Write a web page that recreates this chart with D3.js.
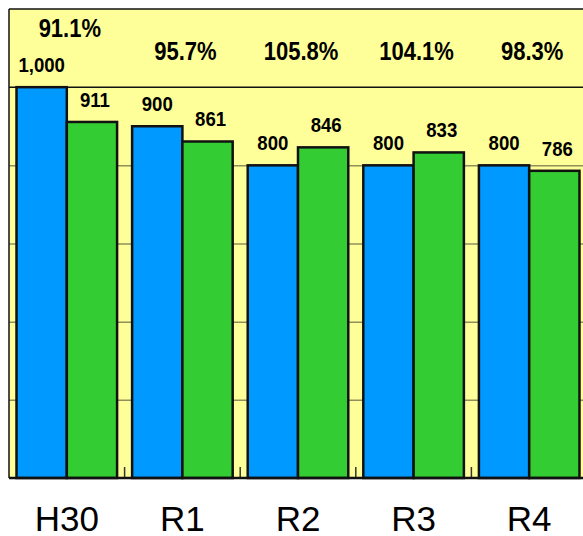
<!DOCTYPE html>
<html>
<head>
<meta charset="utf-8">
<script src="https://cdn.jsdelivr.net/npm/d3@7"></script>
<style>
  body { margin: 0; background: #fff; }
  svg { display: block; }
</style>
</head>
<body>
<svg width="583" height="536"></svg>
<script>
// chart data
const categories = ["H30", "R1", "R2", "R3", "R4"];
const planned = [1000, 900, 800, 800, 800];
const actual = [911, 861, 846, 833, 786];
const ratios = ["91.1%", "95.7%", "105.8%", "104.1%", "98.3%"];
const gridValues = [200, 400, 600, 800];
const topValue = 1000;

const plotL = 9, plotT = 9, plotR = 587, plotB = 478;

const svg = d3.select("svg");

const x0 = d3.scaleBand()
  .domain(categories)
  .range([plotL, plotR])
  .paddingInner(0.13)
  .paddingOuter(0.065);

const x1 = d3.scaleBand()
  .domain(["planned", "actual"])
  .range([0, x0.bandwidth()]);

const y = d3.scaleLinear().domain([0, 1200]).range([plotB, plotT]);

const fmt = d3.format(",");

// yellow plot background
svg.append("rect")
  .attr("x", plotL).attr("y", plotT)
  .attr("width", plotR - plotL).attr("height", plotB - plotT)
  .attr("fill", "#ffff99");

// gridlines
const grid = svg.append("g")
  .attr("transform", `translate(${plotL},0)`)
  .call(d3.axisLeft(y).tickValues(gridValues).tickSize(-(plotR - plotL)).tickFormat(""));
grid.select(".domain").remove();
grid.selectAll("line").attr("stroke", "#8f8f5c").attr("stroke-width", 1.5);

// line under the ratio row (at 1000)
svg.append("line")
  .attr("x1", plotL).attr("x2", plotR)
  .attr("y1", y(topValue)).attr("y2", y(topValue))
  .attr("stroke", "#111").attr("stroke-width", 1.5);

// bars
const rows = categories.map((c, i) => ({ c, planned: planned[i], actual: actual[i], ratio: ratios[i] }));
const colors = { planned: "#0099ff", actual: "#33cc33" };

const groups = svg.selectAll(".grp")
  .data(rows)
  .enter()
  .append("g")
  .attr("transform", d => `translate(${x0(d.c)},0)`);

groups.selectAll("rect")
  .data(d => ["planned", "actual"].map(k => ({ k, v: d[k] })))
  .enter()
  .append("rect")
  .attr("x", d => x1(d.k))
  .attr("y", d => y(d.v))
  .attr("width", x1.bandwidth())
  .attr("height", d => y(0) - y(d.v))
  .attr("fill", d => colors[d.k])
  .attr("stroke", "#111")
  .attr("stroke-width", 2.5);

// value labels
groups.selectAll(".val")
  .data(d => ["planned", "actual"].map(k => ({ k, v: d[k] })))
  .enter()
  .append("text")
  .attr("transform", d => `translate(${x1(d.k) + x1.bandwidth() / 2 + (d.k === "actual" ? 3 : 0)},${y(d.v) - 15}) scale(0.93,1)`)
  .attr("text-anchor", "middle")
  .attr("font-family", "'Liberation Sans', Arial, sans-serif")
  .attr("font-weight", "bold")
  .attr("font-size", 20)
  .attr("fill", "#000")
  .text(d => fmt(d.v));

// ratio labels
groups.append("text")
  .attr("transform", d => `translate(${x0.bandwidth() / 2 + 3},${Math.min(60, y(d.planned) - 50)}) scale(0.88,1)`)
  .attr("text-anchor", "middle")
  .attr("font-family", "'Liberation Sans', Arial, sans-serif")
  .attr("font-weight", "bold")
  .attr("font-size", 25)
  .attr("fill", "#000")
  .text(d => d.ratio);

// baseline ticks at category boundaries
const step = x0.step();
const bounds = categories.slice(1).map(c => x0(c) - (step - x0.bandwidth()) / 2);
svg.selectAll(".tk")
  .data(bounds)
  .enter()
  .append("line")
  .attr("x1", d => d).attr("x2", d => d)
  .attr("y1", plotB).attr("y2", plotB - 11)
  .attr("stroke", "#333").attr("stroke-width", 1.5);

// frame lines
svg.append("line")
  .attr("x1", plotL).attr("x2", plotR).attr("y1", plotB).attr("y2", plotB)
  .attr("stroke", "#111").attr("stroke-width", 2.5);
svg.append("line")
  .attr("x1", plotL).attr("x2", plotL).attr("y1", plotT).attr("y2", plotB)
  .attr("stroke", "#111").attr("stroke-width", 1.5);
svg.append("line")
  .attr("x1", plotL).attr("x2", plotR).attr("y1", plotT).attr("y2", plotT)
  .attr("stroke", "#111").attr("stroke-width", 1.5);

// category axis
const xAxis = svg.append("g")
  .attr("transform", `translate(0,${plotB})`)
  .call(d3.axisBottom(x0).tickSize(0).tickPadding(28));
xAxis.select(".domain").remove();
xAxis.selectAll("text")
  .attr("font-family", "'Liberation Sans', Arial, sans-serif")
  .attr("font-size", 35)
  .attr("fill", "#000");
</script>
</body>
</html>
